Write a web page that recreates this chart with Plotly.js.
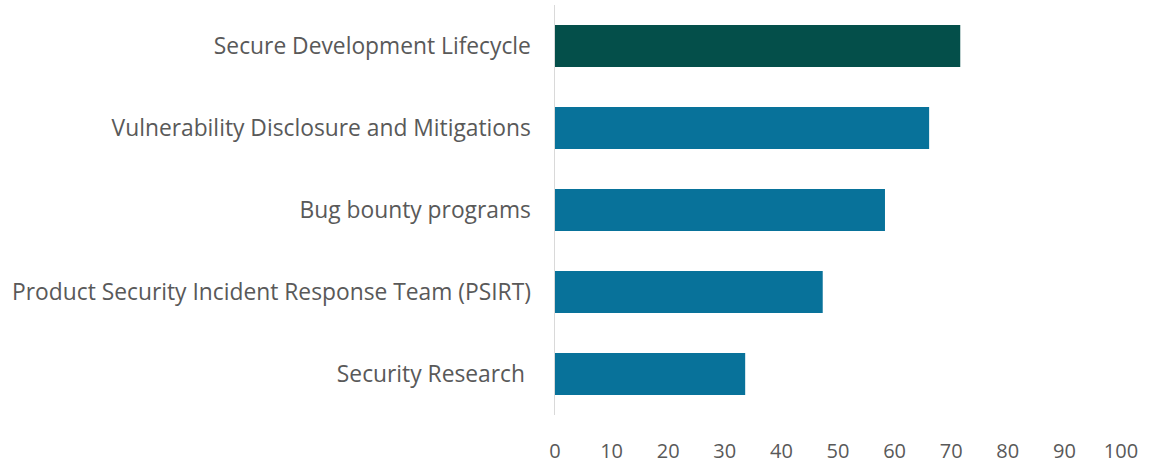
<!DOCTYPE html>
<html>
<head>
<meta charset="utf-8">
<script src="https://cdn.plot.ly/plotly-3.0.1.min.js"></script>
<style>
  html, body { margin: 0; padding: 0; background: #fff; }
  #grafico { width: 1160px; height: 464px; }
</style>
</head>
<body>
<div id="grafico"></div>
<script>
// Datos (de arriba a abajo)
const categorias = [
    'Secure Development Lifecycle',
    'Vulnerability Disclosure and Mitigations',
    'Bug bounty programs',
    'Product Security Incident Response Team (PSIRT)',
    'Security Research '
]
const valores = [71.6, 66.1, 58.3, 47.3, 33.6]
const colores = ['#044f4a', '#08729a', '#08729a', '#08729a', '#08729a']
const ticksX = [0, 10, 20, 30, 40, 50, 60, 70, 80, 90, 100]

const barras = {
    type: 'bar',
    orientation: 'h',
    x: valores,
    y: categorias,
    marker: { color: colores },
    hoverinfo: 'x+y'
}

const layout = {
    width: 1160,
    height: 464,
    margin: { l: 555, r: 39, t: 5, b: 49 },
    paper_bgcolor: '#ffffff',
    plot_bgcolor: '#ffffff',
    font: { family: 'Open Sans, sans-serif', size: 20, color: '#595959' },
    bargap: 0.49,
    showlegend: false,
    xaxis: {
        range: [0, 100],
        tickvals: ticksX,
        showgrid: false,
        zeroline: false,
        showline: false,
        ticks: '',
        ticklabelstandoff: 22,
        fixedrange: true
    },
    yaxis: {
        autorange: 'reversed',
        showgrid: false,
        zeroline: false,
        showline: true,
        linecolor: '#d9d9d9',
        linewidth: 1.5,
        ticks: '',
        tickfont: { size: 22.8 },
        ticklabelstandoff: 18,
        fixedrange: true
    }
}

Plotly.newPlot('grafico', [barras], layout, { displayModeBar: false, staticPlot: true })
</script>
</body>
</html>
